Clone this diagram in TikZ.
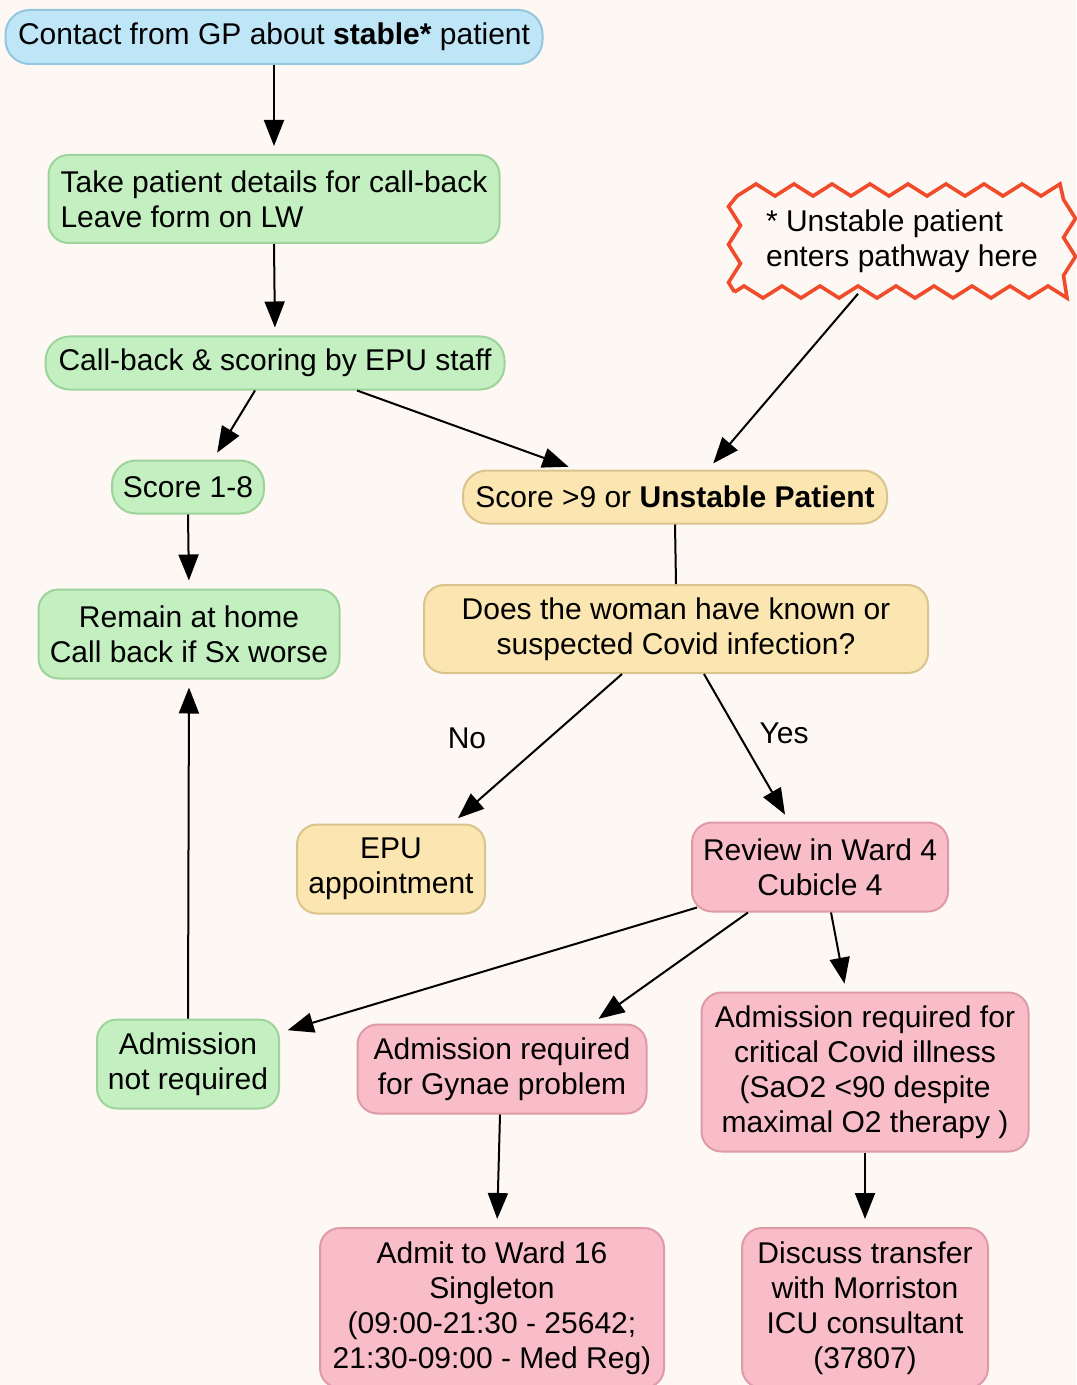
\documentclass[tikz,border=0pt]{standalone}
\usepackage{fontspec}
\setmainfont{Liberation Sans}
\usetikzlibrary{arrows.meta,positioning,decorations.pathmorphing,calc}
\definecolor{paper}{RGB}{253,248,244}
\definecolor{gpfill}{RGB}{190,230,247}
\definecolor{gpline}{RGB}{148,198,221}
\definecolor{homefill}{RGB}{195,239,193}
\definecolor{homeline}{RGB}{158,212,155}
\definecolor{epufill}{RGB}{251,229,176}
\definecolor{epuline}{RGB}{217,196,142}
\definecolor{wardfill}{RGB}{249,189,200}
\definecolor{wardline}{RGB}{222,155,166}
\definecolor{alert}{RGB}{240,75,43}

\tikzset{
  box/.style={rounded corners=10pt, line width=1pt, align=center, inner sep=0pt},
  pill/.style={rounded corners=12pt},
  gpbox/.style={box, fill=gpfill, draw=gpline},
  homebox/.style={box, fill=homefill, draw=homeline},
  epubox/.style={box, fill=epufill, draw=epuline},
  wardbox/.style={box, fill=wardfill, draw=wardline},
  alertbox/.style={draw=alert, fill=paper, line width=1.8pt, align=left, inner sep=0pt,
    decorate, decoration={zigzag, segment length=19pt, amplitude=3pt}},
  flow/.style={line width=1pt, -{Triangle[length=13pt,width=10pt]}, shorten >=4pt},
}

\begin{document}
\begin{tikzpicture}[x=0.5pt, y=-0.5pt, font=\fontsize{15}{17.5}\selectfont]
  \fill[paper] (0,0) rectangle (1076,1385);
  \useasboundingbox (0,0) rectangle (1076,1385);

  % referral and call-back
  \node[gpbox, pill, minimum width=268.5pt, minimum height=27pt] (contact) at (274,37)
    {Contact from GP about \textbf{stable*} patient};
  \node[homebox, align=left, minimum width=225.5pt, minimum height=44pt] (details) at (274,199)
    {Take patient details for call-back\\Leave form on LW};
  \node[homebox, pill, minimum width=229.5pt, minimum height=26.5pt] (callback) at (275,363)
    {Call-back \& scoring by EPU staff};
  \node[homebox, pill, minimum width=76pt, minimum height=26.5pt] (low) at (188,487) {Score 1-8};
  \node[epubox, pill, minimum width=212pt, minimum height=26.5pt] (high) at (675,497)
    {Score >9 or \textbf{Unstable Patient}};
  \node[alertbox, minimum width=167.5pt, minimum height=51pt] (unstable) at (902,241)
    {* Unstable patient\\enters pathway here};
  \node[homebox, minimum width=150.5pt, minimum height=44.5pt] (home) at (189,634)
    {Remain at home\\Call back if Sx worse};
  \node[epubox, minimum width=252pt, minimum height=44pt] (covid) at (676,629)
    {Does the woman have known or\\suspected Covid infection?};

  % outcomes
  \node[epubox, minimum width=94pt, minimum height=44.5pt] (epu) at (391,869) {EPU\\appointment};
  \node[wardbox, minimum width=128pt, minimum height=44.5pt] (review) at (820,867)
    {Review in Ward 4\\Cubicle 4};
  \node[homebox, minimum width=91pt, minimum height=44.5pt] (noadmit) at (188,1064)
    {Admission\\not required};
  \node[wardbox, minimum width=144.5pt, minimum height=44.5pt] (gynae) at (502,1069)
    {Admission required\\for Gynae problem};
  \node[wardbox, minimum width=163.5pt, minimum height=79.5pt] (critical) at (865,1072)
    {Admission required for\\critical Covid illness\\(SaO2 <90 despite\\maximal O2 therapy )};
  \node[wardbox, minimum width=172pt, minimum height=80pt] (ward16) at (492,1308)
    {Admit to Ward 16\\Singleton\\(09:00-21:30 - 25642;\\21:30-09:00 - Med Reg)};
  \node[wardbox, minimum width=123pt, minimum height=80pt] (icu) at (865,1308)
    {Discuss transfer\\with Morriston\\ICU consultant\\(37807)};

  \node (no) at (467,738) {No};
  \node (yes) at (784,733) {Yes};

  % connectors
  \draw[flow] (contact.south) -- (details.north);
  \draw[flow] (details.south) -- (callback.north);
  \draw[flow] ($(callback.south)+(-20,0)$) -- ($(low.north)+(25,0)$);
  \draw[flow] ($(callback.south)+(82,0)$) -- ($(high.north)+(-99,0)$);
  \draw[flow] ($(unstable.south)+(-44,0)$) -- ($(high.north)+(33,0)$);
  \draw[flow] (low.south) -- (home.north);
  \draw[line width=1pt] (high.south) -- (covid.north);
  \draw[flow] ($(covid.south)+(-54,0)$) -- ($(epu.north)+(61,0)$);
  \draw[flow] ($(covid.south)+(28,0)$) -- ($(review.north)+(-31,0)$);
  \draw[flow] ($(review.south west)+(6,-5)$) -- ($(noadmit.north east)+(0,14)$);
  \draw[flow] ($(review.south)+(-72,0)$) -- ($(gynae.north)+(90,0)$);
  \draw[flow] ($(review.south)+(11,0)$) -- ($(critical.north)+(-19,0)$);
  \draw[flow] (noadmit.north) -- (home.south);
  \draw[flow] ($(gynae.south)+(-2,0)$) -- ($(ward16.north)+(5,0)$);
  \draw[flow] (critical.south) -- (icu.north);
\end{tikzpicture}
\end{document}
